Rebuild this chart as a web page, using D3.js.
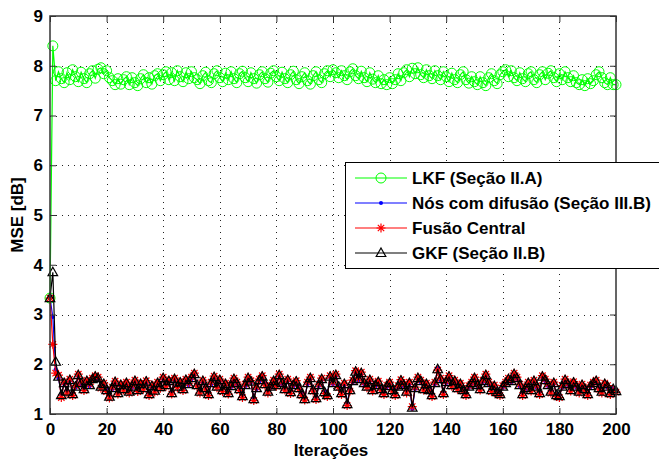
<!DOCTYPE html>
<html>
<head>
<meta charset="utf-8">
<script src="https://cdn.jsdelivr.net/npm/d3@7"></script>
<style>
  body { margin: 0; background: #fff; }
  text { font-family: "Liberation Sans", Arial, sans-serif; font-weight: bold; fill: #000; }
</style>
</head>
<body>
<div id="holder"></div>
<script>
// MSE por iteração, 0..200
const lkf = [3.33, 8.40, 7.70, 7.88, 7.74, 7.66, 7.86, 7.72, 7.92, 7.78,
  7.68, 7.87, 7.74, 7.66, 7.84, 7.90, 7.75, 7.93, 7.96, 7.84,
  7.90, 7.76, 7.70, 7.62, 7.74, 7.63, 7.72, 7.78, 7.62, 7.76,
  7.66, 7.60, 7.74, 7.82, 7.66, 7.76, 7.63, 7.80, 7.84, 7.70,
  7.82, 7.88, 7.72, 7.86, 7.70, 7.90, 7.78, 7.68, 7.86, 7.74,
  7.88, 7.76, 7.72, 7.64, 7.80, 7.87, 7.70, 7.66, 7.84, 7.90,
  7.76, 7.68, 7.85, 7.72, 7.88, 7.74, 7.66, 7.84, 7.89, 7.76,
  7.68, 7.86, 7.74, 7.65, 7.82, 7.88, 7.74, 7.67, 7.85, 7.90,
  7.78, 7.70, 7.87, 7.74, 7.66, 7.82, 7.89, 7.72, 7.64, 7.78,
  7.86, 7.70, 7.63, 7.80, 7.88, 7.72, 7.66, 7.84, 7.90, 7.78,
  7.92, 7.86, 7.76, 7.90, 7.80, 7.72, 7.88, 7.94, 7.80, 7.74,
  7.89, 7.76, 7.68, 7.86, 7.73, 7.66, 7.80, 7.64, 7.72, 7.62,
  7.76, 7.64, 7.72, 7.84, 7.70, 7.86, 7.92, 7.78, 7.95, 7.84,
  7.96, 7.82, 7.76, 7.92, 7.80, 7.74, 7.90, 7.80, 7.72, 7.88,
  7.78, 7.68, 7.85, 7.72, 7.66, 7.82, 7.88, 7.72, 7.65, 7.78,
  7.68, 7.62, 7.78, 7.66, 7.60, 7.76, 7.84, 7.70, 7.64, 7.82,
  7.88, 7.92, 7.78, 7.90, 7.76, 7.70, 7.86, 7.74, 7.68, 7.84,
  7.88, 7.72, 7.66, 7.82, 7.88, 7.72, 7.85, 7.90, 7.76, 7.68,
  7.84, 7.72, 7.88, 7.76, 7.68, 7.80, 7.66, 7.62, 7.72, 7.60,
  7.74, 7.64, 7.70, 7.82, 7.88, 7.76, 7.66, 7.62, 7.76, 7.62,
  7.62];

const difusao = [3.33, 2.95, 1.90, 1.72, 1.40, 1.60, 1.47, 1.66, 1.42, 1.53,
  1.75, 1.60, 1.52, 1.64, 1.56, 1.68, 1.73, 1.70, 1.57, 1.58,
  1.50, 1.37, 1.50, 1.62, 1.44, 1.56, 1.52, 1.60, 1.47, 1.53,
  1.64, 1.50, 1.58, 1.54, 1.63, 1.42, 1.54, 1.49, 1.60, 1.56,
  1.70, 1.60, 1.64, 1.44, 1.68, 1.57, 1.61, 1.52, 1.66, 1.58,
  1.70, 1.78, 1.60, 1.47, 1.64, 1.54, 1.42, 1.60, 1.72, 1.57,
  1.66, 1.50, 1.58, 1.44, 1.54, 1.68, 1.60, 1.52, 1.38, 1.56,
  1.70, 1.63, 1.32, 1.50, 1.66, 1.73, 1.62, 1.47, 1.53, 1.64,
  1.60, 1.76, 1.60, 1.52, 1.66, 1.46, 1.56, 1.63, 1.54, 1.42,
  1.32, 1.60, 1.70, 1.50, 1.34, 1.56, 1.68, 1.46, 1.40, 1.73,
  1.60, 1.76, 1.57, 1.44, 1.58, 1.22, 1.50, 1.64, 1.83, 1.68,
  1.80, 1.60, 1.57, 1.66, 1.50, 1.56, 1.62, 1.52, 1.44, 1.54,
  1.60, 1.50, 1.42, 1.53, 1.65, 1.56, 1.47, 1.60, 1.10, 1.50,
  1.70, 1.64, 1.52, 1.58, 1.50, 1.40, 1.60, 1.93, 1.68, 1.44,
  1.62, 1.73, 1.60, 1.64, 1.54, 1.58, 1.50, 1.42, 1.53, 1.60,
  1.70, 1.56, 1.52, 1.64, 1.76, 1.60, 1.50, 1.54, 1.46, 1.42,
  1.53, 1.60, 1.68, 1.64, 1.78, 1.70, 1.56, 1.42, 1.50, 1.60,
  1.50, 1.64, 1.53, 1.44, 1.73, 1.66, 1.56, 1.47, 1.60, 1.40,
  1.38, 1.53, 1.66, 1.58, 1.50, 1.61, 1.53, 1.47, 1.56, 1.52,
  1.42, 1.54, 1.60, 1.64, 1.54, 1.47, 1.58, 1.53, 1.44, 1.52,
  1.48];

const central = [3.33, 2.40, 1.82, 1.78, 1.33, 1.64, 1.42, 1.70, 1.37, 1.57,
  1.80, 1.64, 1.47, 1.68, 1.60, 1.72, 1.77, 1.74, 1.52, 1.62,
  1.45, 1.32, 1.54, 1.66, 1.40, 1.60, 1.48, 1.64, 1.42, 1.57,
  1.68, 1.45, 1.62, 1.50, 1.67, 1.37, 1.58, 1.44, 1.64, 1.52,
  1.74, 1.56, 1.68, 1.40, 1.72, 1.53, 1.65, 1.47, 1.70, 1.62,
  1.74, 1.82, 1.56, 1.42, 1.68, 1.50, 1.37, 1.64, 1.76, 1.53,
  1.70, 1.45, 1.62, 1.40, 1.58, 1.72, 1.64, 1.47, 1.33, 1.60,
  1.74, 1.67, 1.27, 1.54, 1.70, 1.77, 1.58, 1.42, 1.57, 1.68,
  1.56, 1.80, 1.64, 1.48, 1.70, 1.41, 1.60, 1.67, 1.50, 1.37,
  1.28, 1.64, 1.74, 1.46, 1.29, 1.60, 1.72, 1.41, 1.35, 1.77,
  1.64, 1.80, 1.53, 1.39, 1.62, 1.17, 1.46, 1.68, 1.87, 1.72,
  1.84, 1.64, 1.53, 1.70, 1.46, 1.60, 1.66, 1.48, 1.39, 1.58,
  1.64, 1.46, 1.37, 1.57, 1.69, 1.60, 1.42, 1.64, 1.15, 1.54,
  1.74, 1.68, 1.48, 1.62, 1.46, 1.35, 1.64, 1.88, 1.72, 1.39,
  1.66, 1.77, 1.56, 1.68, 1.50, 1.62, 1.46, 1.37, 1.57, 1.64,
  1.74, 1.60, 1.48, 1.68, 1.80, 1.64, 1.45, 1.58, 1.41, 1.37,
  1.57, 1.64, 1.72, 1.68, 1.82, 1.74, 1.60, 1.37, 1.54, 1.64,
  1.46, 1.68, 1.57, 1.39, 1.77, 1.70, 1.60, 1.42, 1.64, 1.35,
  1.33, 1.57, 1.70, 1.62, 1.46, 1.65, 1.57, 1.42, 1.60, 1.48,
  1.37, 1.58, 1.64, 1.68, 1.50, 1.42, 1.62, 1.57, 1.39, 1.48,
  1.44];

const gkf = [3.33, 3.85, 2.05, 1.75, 1.38, 1.62, 1.45, 1.68, 1.40, 1.55,
  1.78, 1.62, 1.50, 1.66, 1.58, 1.70, 1.75, 1.72, 1.55, 1.60,
  1.48, 1.35, 1.52, 1.64, 1.42, 1.58, 1.50, 1.62, 1.45, 1.55,
  1.66, 1.48, 1.60, 1.52, 1.65, 1.40, 1.56, 1.47, 1.62, 1.54,
  1.72, 1.58, 1.66, 1.42, 1.70, 1.55, 1.63, 1.50, 1.68, 1.60,
  1.72, 1.80, 1.58, 1.45, 1.66, 1.52, 1.40, 1.62, 1.74, 1.55,
  1.68, 1.48, 1.60, 1.42, 1.56, 1.70, 1.62, 1.50, 1.36, 1.58,
  1.72, 1.65, 1.30, 1.52, 1.68, 1.75, 1.60, 1.45, 1.55, 1.66,
  1.58, 1.78, 1.62, 1.50, 1.68, 1.44, 1.58, 1.65, 1.52, 1.40,
  1.30, 1.62, 1.72, 1.48, 1.32, 1.58, 1.70, 1.44, 1.38, 1.75,
  1.62, 1.78, 1.55, 1.42, 1.60, 1.20, 1.48, 1.66, 1.85, 1.70,
  1.82, 1.62, 1.55, 1.68, 1.48, 1.58, 1.64, 1.50, 1.42, 1.56,
  1.62, 1.48, 1.40, 1.55, 1.67, 1.58, 1.45, 1.62, 1.13, 1.52,
  1.72, 1.66, 1.50, 1.60, 1.48, 1.38, 1.62, 1.90, 1.70, 1.42,
  1.64, 1.75, 1.58, 1.66, 1.52, 1.60, 1.48, 1.40, 1.55, 1.62,
  1.72, 1.58, 1.50, 1.66, 1.78, 1.62, 1.48, 1.56, 1.44, 1.40,
  1.55, 1.62, 1.70, 1.66, 1.80, 1.72, 1.58, 1.40, 1.52, 1.62,
  1.48, 1.66, 1.55, 1.42, 1.75, 1.68, 1.58, 1.45, 1.62, 1.38,
  1.36, 1.55, 1.68, 1.60, 1.48, 1.63, 1.55, 1.45, 1.58, 1.50,
  1.40, 1.56, 1.62, 1.66, 1.52, 1.45, 1.60, 1.55, 1.42, 1.50,
  1.46];

const legendLabels = ["LKF (Seção II.A)", "Nós com difusão (Seção III.B)", "Fusão Central", "GKF (Seção II.B)"];
const xTicks = [0, 20, 40, 60, 80, 100, 120, 140, 160, 180, 200];
const yTicks = [1, 2, 3, 4, 5, 6, 7, 8, 9];

const width = 659, height = 462;
const mLeft = 50, mRight = 616, mTop = 16, mBottom = 414;

const svg = d3.select("#holder").append("svg")
    .attr("width", width)
    .attr("height", height);

svg.append("rect").attr("width", width).attr("height", height).attr("fill", "#fff");

const x = d3.scaleLinear().domain([0, 200]).range([mLeft, mRight]);
const y = d3.scaleLinear().domain([1, 9]).range([mBottom, mTop]);

// grade pontilhada
const grid = svg.append("g").attr("stroke", "#222").attr("stroke-dasharray", "1,5").attr("stroke-width", 1);
xTicks.slice(1, -1).forEach(t => {
    grid.append("line").attr("x1", Math.round(x(t)) + 0.5).attr("x2", Math.round(x(t)) + 0.5).attr("y1", mTop).attr("y2", mBottom);
});
yTicks.slice(1, -1).forEach(t => {
    grid.append("line").attr("y1", Math.round(y(t)) + 0.5).attr("y2", Math.round(y(t)) + 0.5).attr("x1", mLeft).attr("x2", mRight);
});

const plot = svg.append("g");

const series = [
    { data: lkf, color: "#00ff00", marker: "circle" },
    { data: difusao, color: "#0000ff", marker: "dot" },
    { data: central, color: "#ff0000", marker: "star" },
    { data: gkf, color: "#000000", marker: "tri" }
];

const line = d3.line().x((d, i) => x(i)).y(d => y(d));

function drawMarker(g, type, color) {
    if (type === "circle") {
        g.append("circle").attr("r", 5).attr("fill", "none").attr("stroke", color).attr("stroke-width", 1);
    } else if (type === "dot") {
        g.append("circle").attr("r", 2).attr("fill", color);
    } else if (type === "star") {
        g.append("path").attr("d", "M-4.5,0L4.5,0M0,-4.5L0,4.5M-3.2,-3.2L3.2,3.2M-3.2,3.2L3.2,-3.2")
            .attr("stroke", color).attr("stroke-width", 1.2).attr("fill", "none");
    } else {
        g.append("path").attr("d", "M0,-5L4.8,3.5L-4.8,3.5Z")
            .attr("stroke", color).attr("stroke-width", 1.2).attr("fill", "none");
    }
}

series.forEach(s => {
    plot.append("path").datum(s.data)
        .attr("d", line)
        .attr("fill", "none")
        .attr("stroke", s.color)
        .attr("stroke-width", 1.2);
    plot.selectAll(null).data(s.data).enter().append("g")
        .attr("transform", (d, i) => `translate(${x(i)},${y(d)})`)
        .each(function () { drawMarker(d3.select(this), s.marker, s.color); });
});

// eixos
const xAxis = d3.axisBottom(x).tickValues(xTicks).tickSize(-6).tickPadding(9);
const yAxis = d3.axisLeft(y).tickValues(yTicks).tickSize(-6).tickPadding(7);
const xTop = d3.axisTop(x).tickValues(xTicks).tickSize(-6).tickFormat("");
const yRight = d3.axisRight(y).tickValues(yTicks).tickSize(-6).tickFormat("");

function styleAxis(g) {
    g.select(".domain").remove();
    g.selectAll("line").attr("stroke", "#333");
    g.selectAll("text").style("font-size", "17px").style("font-family", "Liberation Sans, Arial, sans-serif").style("font-weight", "bold").attr("fill", "#000");
}

svg.append("g").attr("transform", `translate(0,${mBottom})`).call(xAxis).call(styleAxis);
svg.append("g").attr("transform", `translate(${mLeft},0)`).call(yAxis).call(styleAxis);
svg.append("g").attr("transform", `translate(0,${mTop})`).call(xTop).call(styleAxis);
svg.append("g").attr("transform", `translate(${mRight},0)`).call(yRight).call(styleAxis);

svg.append("rect")
    .attr("x", mLeft).attr("y", mTop)
    .attr("width", mRight - mLeft).attr("height", mBottom - mTop)
    .attr("fill", "none").attr("stroke", "#333").attr("stroke-width", 1.5);

svg.append("text")
    .attr("x", 331).attr("y", 456)
    .attr("text-anchor", "middle")
    .style("font-size", "17px")
    .text("Iterações");

svg.append("text")
    .attr("transform", `translate(23,${(mTop + mBottom) / 2}) rotate(-90)`)
    .attr("text-anchor", "middle")
    .style("font-size", "17px")
    .text("MSE [dB]");

// legenda
const legend = svg.append("g").attr("transform", "translate(345,162)");
legend.append("rect").attr("x", 0.5).attr("y", 0.5).attr("width", 320).attr("height", 106)
    .attr("fill", "#fff").attr("stroke", "#000").attr("stroke-width", 1);

legendLabels.forEach((lab, i) => {
    const row = legend.append("g").attr("transform", `translate(0,${16 + i * 25})`);
    row.append("line").attr("x1", 10).attr("x2", 62).attr("y1", 0).attr("y2", 0)
        .attr("stroke", series[i].color).attr("stroke-width", 1.2);
    const m = row.append("g").attr("transform", "translate(36,0)");
    drawMarker(m, series[i].marker, series[i].color);
    row.append("text").attr("x", 67).attr("y", 6).style("font-size", "17px").text(lab);
});
</script>
</body>
</html>
